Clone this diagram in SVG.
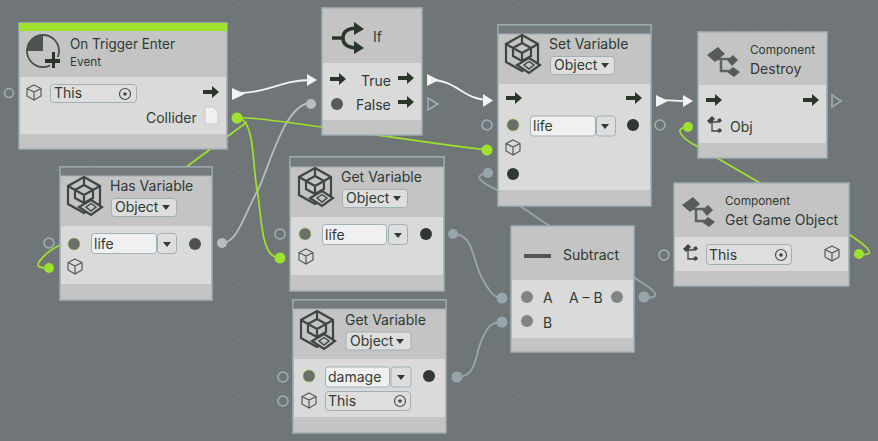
<svg xmlns="http://www.w3.org/2000/svg" width="878" height="441" viewBox="0 0 878 441">
<style>
text{font-family:"Inter","Noto Sans",sans-serif;fill:#2f3a33;font-size:14px}
.sm{font-size:11.800px}
.box{fill:#c4c4c4;stroke:#9fb0b8;stroke-width:1.5}
.bar{fill:#757a7c;stroke:#9fb0b8;stroke-width:1}
.body{fill:#dadada}
.inp{fill:#f0f0f0;stroke:#9fb0b8;stroke-width:1}
.inp2{fill:#dedede;stroke:#9fb0b8;stroke-width:1}
.port{fill:none;stroke:#9fb0b8;stroke-width:1.5}
.g{fill:#9ee12f}
.v{fill:#97a6ad}
.grid{stroke:#83888a;stroke-width:1;stroke-dasharray:1 6;fill:none}
.wg{fill:none;stroke:#9ee12f;stroke-width:1.700}
.ww{fill:none;stroke:#f2f2f2;stroke-width:1.800}
.wv{fill:none;stroke:#97a6ad;stroke-width:1.800}
.wl{fill:none;stroke:#b9bcbc;stroke-width:1.800}
.ic{fill:none;stroke:#3f4644;stroke-width:1.6}
</style>
<defs>
<symbol id="arrow" viewBox="0 0 16 12" overflow="visible"><path d="M0 4H9V0L16 6L9 12V8H0Z" fill="#2b362b"/></symbol>
<g id="cube"><path class="ic" d="M0-7L7-3.5V4L0 8L-7 4V-3.5ZM-7-3.5L0 0L7-3.5M0 0V8" style="stroke:#555b5a;stroke-width:1.2"/></g>
<g id="bigcube"><path class="ic" style="stroke-width:2.2" d="M0-18L16-9V9L0 18L-16 9V-9ZM0-10L9-5V3L0 8L-9 3V-5ZM-9-5L0 0L9-5M0 0V8M-16-9L-9-5M16-9L9-5M0-18V-10"/><path d="M7 5L18 12L7 20L-5 12Z" fill="#c4c4c4" stroke="#3f4644" stroke-width="2.2"/><path d="M7 8.500L12 12L7 16L2 12Z" fill="none" stroke="#3f4644" stroke-width="1.400"/></g>
<g id="comp"><path class="ic" style="stroke:#5d6361;stroke-width:2.5" d="M-6-3H5M-3-3V9H5"/><path fill="#565c5a" d="M-17-7L-6-15L1-8L-9 0Z"/><path fill="#565c5a" d="M3-2L9-7L14-2L8 4Z"/><path fill="#565c5a" d="M3 10L9 5L16 10L10 15Z"/></g>
<g id="compsm"><path class="ic" style="stroke:#3f4644;stroke-width:1.3" d="M-2-3H4M-2-3V6H4"/><path fill="#3f4644" d="M-7-4L-2-9L1-6L-4-1Z"/><path fill="#3f4644" d="M3-5L6-7L8-4L5-2Z"/><path fill="#3f4644" d="M3 5L6 3L8 6L5 8Z"/></g>
<g id="target"><circle r="5.500" fill="none" stroke="#4a504e" stroke-width="1.200"/><circle r="1.800" fill="#3f4644"/></g>
<g id="dd"><path d="M-4-2H4L0 3Z" fill="#333a35"/></g>
</defs>
<rect width="878" height="441" fill="#707577"/>
<g id="grid">
<path class="grid" d="M94 0V441M233 0V441M513 0V441M757 0V441M0 32H878M0 170H878M0 310H878"/>
</g>
<g id="connectors">
<path class="ww" d="M236 93C270 93 280 80 312 80"/>
<path class="ww" d="M430 80C458 80 462 100 490 100"/>
<path class="ww" d="M656 100C668 100 672 101 688 101"/>
<path class="wl" d="M222 243C238 243 245 212 258 190C270 165 285 103 311 103"/>
<path class="wg" d="M237 118L248 118C300 122 400 140 487 150"/>
<path class="wg" d="M237 118C256 118 252 170 258 195C262 225 262 258 280 258"/>
<path class="wg" d="M247 122L185 168"/>
<path class="wg" d="M49 268C40 268 36 267 39 262C43 256 50 250 60 245"/>
<path class="wv" d="M453 234C475 234 472 262 483 280C490 292 494 298 502 298"/>
<path class="wv" d="M457 377C478 377 474 355 483 337C488 326 492 322 502 322"/>
<path class="wv" d="M644 297C655 299 658 295 653 291C648 285 640 282 635 278L548 225L497 190C480 182 472 175 488 173"/>
<path class="wg" d="M688 127C676 127 676 135 698 147L850 235C865 245 873 252 868 254C866 255 862 254 858 254"/>
</g>
<g id="on-trigger-enter">
<rect class="box" x="19" y="23" width="208" height="126"/>
<rect class="g" x="19" y="23" width="208" height="8"/>
<rect class="body" x="20" y="77" width="206" height="57"/>
<circle cx="43" cy="51" r="16" fill="none" stroke="#4a504e" stroke-width="1.800"/>
<path d="M27 51A16 16 0 0 1 43 35V51Z" fill="#4d5351"/>
<path d="M50 50h7v7h5v7h-5v6h-7v-6h-8v-7h8z" fill="#c4c4c4"/>
<path d="M52 52h3v7h5v4h-5v5h-3v-5h-7v-4h7z" fill="#2b362b"/>
<text x="70" y="49" textLength="105" lengthAdjust="spacingAndGlyphs">On Trigger Enter</text>
<text x="70" y="66" class="sm">Event</text>
<circle class="port" cx="9" cy="93" r="4.500"/>
<use href="#cube" x="34" y="92"/>
<rect class="inp2" x="50.500" y="84.500" width="86" height="18" rx="3"/>
<text x="54" y="98">This</text>
<use href="#target" x="125" y="94"/>
<use href="#arrow" x="203" y="86" width="16" height="12"/>
<text x="146" y="123">Collider</text>
<path d="M205 107H213L218 112V124H205Z" fill="#f0f0f0" stroke="#c8c8c8"/>
<path d="M232 88V100L245 94Z" fill="#f2f2f2"/>
<circle class="g" cx="237" cy="118" r="5.500"/>
</g>
<g id="has-variable">
<rect class="box" x="60" y="167" width="152" height="133"/>
<rect class="bar" x="60" y="167" width="152" height="9"/>
<rect class="body" x="61" y="226" width="150" height="58"/>
<use href="#bigcube" x="84" y="195"/>
<text x="110" y="191">Has Variable</text>
<rect class="inp2" x="111.500" y="198.500" width="65" height="18" rx="3"/>
<text x="115" y="212">Object</text>
<use href="#dd" x="166" y="207"/>
<circle class="port" cx="49" cy="243" r="5"/>
<circle cx="74" cy="244" r="6" fill="#6b6f6a" stroke="#9ee12f" stroke-dasharray="1 1"/>
<rect class="inp" x="91.500" y="233.500" width="65" height="20" rx="3"/>
<rect class="inp2" x="157.500" y="233.500" width="19" height="20" rx="3"/>
<text x="94" y="249">life</text>
<use href="#dd" x="167" y="244"/>
<circle cx="195" cy="244" r="6" fill="#4d5251"/>
<circle cx="222" cy="243" r="5" fill="#b9bcbc"/>
<use href="#cube" x="75" y="266"/>
<circle class="g" cx="49" cy="268" r="5"/>
</g>
<g id="if">
<rect class="box" x="322" y="8" width="100" height="127"/>
<rect class="body" x="323" y="63" width="98" height="57"/>
<path d="M332 38H343M343 38C343 30 350 28 358 28M343 38C343 46 350 48 358 48" fill="none" stroke="#2b362b" stroke-width="3.500"/>
<path d="M354 22L364 29L354 35Z" fill="#2b362b"/><path d="M354 41L364 48L354 54Z" fill="#2b362b"/>
<text x="373" y="42">If</text>
<use href="#arrow" x="330" y="73" width="16" height="12"/>
<text x="361" y="86">True</text>
<use href="#arrow" x="398" y="72" width="16" height="12"/>
<circle cx="337" cy="104" r="6" fill="#565b5a"/>
<text x="356" y="110">False</text>
<use href="#arrow" x="398" y="96" width="16" height="12"/>
<path d="M427 74V86L439 80Z" fill="#f2f2f2"/>
<path d="M428 98V110L438 104Z" fill="none" stroke="#9fb0b8" stroke-width="1.500"/>
<path d="M307 74V86L317 80Z" fill="#f2f2f2"/>
<circle cx="311" cy="104" r="5" fill="#b9bcbc"/>
</g>
<g id="set-variable">
<rect class="box" x="498" y="25" width="153" height="181"/>
<rect class="bar" x="498" y="25" width="153" height="9"/>
<rect class="body" x="499" y="84" width="151" height="106"/>
<use href="#bigcube" x="522" y="53"/>
<text x="549" y="49">Set Variable</text>
<rect class="inp2" x="550.500" y="56.500" width="64" height="18" rx="3"/>
<text x="554" y="70">Object</text>
<use href="#dd" x="605" y="65"/>
<use href="#arrow" x="506" y="92" width="16" height="12"/>
<use href="#arrow" x="626" y="92" width="16" height="12"/>
<path d="M483 94V107L493 100.500Z" fill="#f2f2f2"/>
<circle class="port" cx="487" cy="125" r="5"/>
<circle cx="513" cy="125" r="6" fill="#6b6f6a" stroke="#9ee12f" stroke-dasharray="1 1"/>
<rect class="inp" x="530.500" y="116" width="65" height="20" rx="3"/>
<rect class="inp2" x="596.500" y="116" width="19" height="20" rx="3"/>
<text x="533" y="131">life</text>
<use href="#dd" x="605" y="126"/>
<circle cx="633" cy="125" r="6" fill="#2f3634"/>
<use href="#cube" x="513" y="147"/>
<circle class="g" cx="487" cy="150" r="5.500"/>
<circle cx="513" cy="174" r="6" fill="#2f3634"/>
<circle class="v" cx="488" cy="173" r="5"/>
<path d="M656 95V107L668 101Z" fill="#f2f2f2"/>
<circle class="port" cx="660" cy="125" r="5"/>
</g>
<g id="destroy">
<rect class="box" x="698" y="32" width="129" height="126"/>
<rect class="body" x="699" y="85" width="127" height="58"/>
<use href="#comp" x="724" y="62"/>
<text x="750" y="54" class="sm">Component</text>
<text x="750" y="74">Destroy</text>
<use href="#arrow" x="706" y="94" width="16" height="12"/>
<use href="#arrow" x="803" y="94" width="16" height="12"/>
<use href="#compsm" x="714" y="125"/>
<text x="730" y="132">Obj</text>
<path d="M683 95V107L693 101Z" fill="#f2f2f2"/>
<circle class="g" cx="688" cy="127" r="5"/>
<path d="M832 95V107L841 101Z" fill="none" stroke="#9fb0b8" stroke-width="1.500"/>
</g>
<g id="get-game-object">
<rect class="box" x="674" y="183" width="175" height="103"/>
<rect class="body" x="675" y="237" width="173" height="34"/>
<use href="#comp" x="699" y="212"/>
<text x="725" y="205" class="sm">Component</text>
<text x="725" y="225">Get Game Object</text>
<circle class="port" cx="664" cy="255" r="5"/>
<use href="#compsm" x="690" y="253"/>
<rect class="inp2" x="706.500" y="244.500" width="85" height="20" rx="3"/>
<text x="709" y="260">This</text>
<use href="#target" x="781" y="255"/>
<use href="#cube" x="832" y="253"/>
<circle class="g" cx="859" cy="254" r="5"/>
</g>
<g id="get-variable-life">
<rect class="box" x="290" y="157" width="154" height="134"/>
<rect class="bar" x="290" y="157" width="154" height="10"/>
<rect class="body" x="291" y="217" width="152" height="58"/>
<use href="#bigcube" x="315" y="186"/>
<text x="341" y="182">Get Variable</text>
<rect class="inp2" x="342.500" y="189.500" width="65" height="18" rx="3"/>
<text x="346" y="203">Object</text>
<use href="#dd" x="397" y="198"/>
<circle class="port" cx="280" cy="234" r="5"/>
<circle cx="305" cy="234" r="6" fill="#6b6f6a" stroke="#9ee12f" stroke-dasharray="1 1"/>
<rect class="inp" x="322.500" y="224.500" width="64" height="20" rx="3"/>
<rect class="inp2" x="388.500" y="224.500" width="19" height="20" rx="3"/>
<text x="325" y="240">life</text>
<use href="#dd" x="398" y="235"/>
<circle cx="426" cy="234" r="6" fill="#2f3634"/>
<circle class="v" cx="453" cy="234" r="5"/>
<use href="#cube" x="306" y="256"/>
<circle class="g" cx="280" cy="258" r="5.500"/>
</g>
<g id="get-variable-damage">
<rect class="box" x="293" y="300" width="153" height="133"/>
<rect class="bar" x="293" y="300" width="153" height="9"/>
<rect class="body" x="294" y="359" width="151" height="58"/>
<use href="#bigcube" x="317" y="329"/>
<text x="345" y="325">Get Variable</text>
<rect class="inp2" x="346" y="332" width="65" height="18" rx="3"/>
<text x="350" y="346">Object</text>
<use href="#dd" x="400" y="341"/>
<circle class="port" cx="283" cy="377" r="5"/>
<circle cx="309" cy="376" r="6" fill="#6b6f6a" stroke="#9ee12f" stroke-dasharray="1 1"/>
<rect class="inp" x="325.500" y="367" width="64" height="20" rx="3"/>
<rect class="inp2" x="391" y="367" width="20" height="20" rx="3"/>
<text x="328" y="382">damage</text>
<use href="#dd" x="401" y="377"/>
<circle cx="429" cy="376" r="6" fill="#2f3634"/>
<circle class="v" cx="457" cy="377" r="5.500"/>
<circle class="port" cx="283" cy="401" r="5"/>
<use href="#cube" x="309" y="400"/>
<rect class="inp2" x="325.500" y="391.500" width="85" height="19" rx="3"/>
<text x="328" y="406">This</text>
<use href="#target" x="400" y="401"/>
</g>
<g id="subtract">
<rect class="box" x="511" y="226" width="123" height="126"/>
<rect class="body" x="512" y="280" width="121" height="58"/>
<rect x="524" y="254" width="27" height="4" fill="#4f5553"/>
<text x="563" y="260">Subtract</text>
<circle cx="527" cy="297" r="6" fill="#7f8584"/>
<circle cx="527" cy="321" r="6" fill="#7f8584"/>
<text x="543" y="303">A</text>
<text x="569" y="303">A – B</text>
<text x="543" y="328">B</text>
<circle cx="617" cy="297" r="6" fill="#7f8584"/>
<circle class="v" cx="502" cy="298" r="5.500"/>
<circle class="v" cx="502" cy="322" r="5.500"/>
<circle class="v" cx="644" cy="297" r="5.500"/>
</g>
</svg>
